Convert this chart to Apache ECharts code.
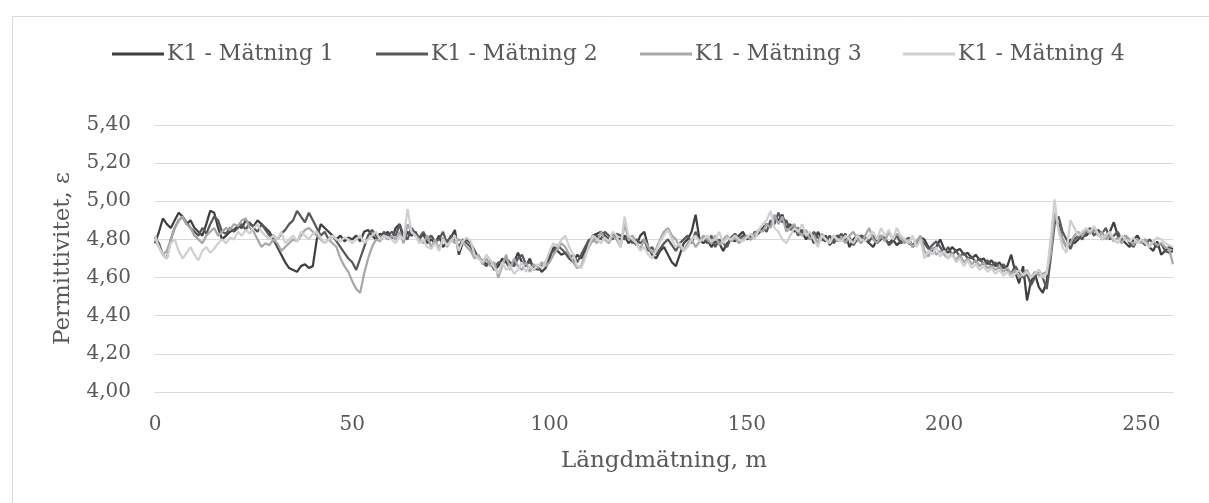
<!DOCTYPE html>
<html>
<head>
<meta charset="utf-8">
<script src="https://cdn.jsdelivr.net/npm/echarts@6/dist/echarts.min.js"></script>
<style>
  html, body { margin: 0; padding: 0; background: #ffffff; }
  #chart { width: 1209px; height: 503px; }
</style>
</head>
<body>
<div id="chart"></div>
<script>
// Series names
const seriesNames = ['K1 - Mätning 1', 'K1 - Mätning 2', 'K1 - Mätning 3', 'K1 - Mätning 4'];
const xTicks = [0, 50, 100, 150, 200, 250];
const yTicks = [4.00, 4.20, 4.40, 4.60, 4.80, 5.00, 5.20, 5.40];

// Measurement positions, m (1 m sampling)
const meters = Array.from({ length: 259 }, (_, i) => i);

// Permittivity values
const matning1 = [
  4.78, 4.84, 4.91, 4.88, 4.86, 4.90, 4.94, 4.92, 4.88, 4.90,
  4.86, 4.84, 4.82, 4.88, 4.95, 4.94, 4.86, 4.80, 4.82, 4.84,
  4.85, 4.87, 4.86, 4.90, 4.88, 4.87, 4.90, 4.88, 4.86, 4.84,
  4.80, 4.76, 4.72, 4.68, 4.65, 4.64, 4.63, 4.66, 4.67, 4.65,
  4.66, 4.80, 4.88, 4.86, 4.84, 4.82, 4.80, 4.82, 4.79, 4.81,
  4.80, 4.82, 4.79, 4.84, 4.85, 4.82, 4.80, 4.83, 4.82, 4.84,
  4.80, 4.86, 4.88, 4.79, 4.84, 4.82, 4.84, 4.80, 4.83, 4.78,
  4.80, 4.78, 4.82, 4.76, 4.79, 4.81, 4.85, 4.72, 4.78, 4.80,
  4.78, 4.74, 4.70, 4.69, 4.67, 4.68, 4.64, 4.66, 4.70, 4.68,
  4.65, 4.68, 4.73, 4.68, 4.66, 4.70, 4.64, 4.66, 4.63, 4.65,
  4.70, 4.76, 4.74, 4.72, 4.73, 4.70, 4.68, 4.72, 4.70, 4.74,
  4.78, 4.82, 4.83, 4.84, 4.82, 4.80, 4.83, 4.81, 4.80, 4.82,
  4.78, 4.80, 4.77, 4.82, 4.84, 4.76, 4.72, 4.70, 4.74, 4.76,
  4.72, 4.68, 4.66, 4.72, 4.78, 4.80, 4.84, 4.93, 4.80, 4.78,
  4.80, 4.76, 4.79, 4.78, 4.74, 4.78, 4.80, 4.79, 4.82, 4.84,
  4.80, 4.82, 4.81, 4.84, 4.86, 4.88, 4.87, 4.92, 4.90, 4.93,
  4.86, 4.88, 4.84, 4.86, 4.84, 4.80, 4.83, 4.78, 4.84, 4.80,
  4.82, 4.77, 4.80, 4.82, 4.80, 4.83, 4.76, 4.80, 4.82, 4.81,
  4.80, 4.78, 4.76, 4.80, 4.82, 4.80, 4.78, 4.80, 4.77, 4.79,
  4.80, 4.78, 4.77, 4.79, 4.81, 4.80, 4.76, 4.74, 4.76, 4.80,
  4.75, 4.73, 4.76, 4.74, 4.75, 4.72, 4.73, 4.70, 4.72, 4.69,
  4.70, 4.67, 4.69, 4.66, 4.68, 4.65, 4.66, 4.72, 4.63, 4.57,
  4.66, 4.48, 4.58, 4.62, 4.55, 4.52, 4.58, 4.78, 4.91, 4.88,
  4.80, 4.76, 4.80, 4.78, 4.80, 4.83, 4.82, 4.84, 4.85, 4.84,
  4.80, 4.82, 4.84, 4.89, 4.82, 4.80, 4.78, 4.76, 4.80, 4.82,
  4.78, 4.80, 4.76, 4.74, 4.79, 4.72, 4.74, 4.76, 4.75
];
const matning2 = [
  4.81, 4.78, 4.72, 4.70, 4.80, 4.86, 4.90, 4.92, 4.89, 4.86,
  4.84, 4.82, 4.86, 4.83, 4.88, 4.92, 4.90, 4.84, 4.83, 4.86,
  4.84, 4.86, 4.88, 4.85, 4.89, 4.86, 4.84, 4.88, 4.85, 4.82,
  4.82, 4.80, 4.83, 4.85, 4.88, 4.90, 4.95, 4.92, 4.89, 4.94,
  4.90, 4.86, 4.82, 4.84, 4.80, 4.82, 4.79, 4.76, 4.73, 4.70,
  4.68, 4.64, 4.70, 4.76, 4.82, 4.85, 4.82, 4.80, 4.84, 4.82,
  4.84, 4.82, 4.88, 4.82, 4.80, 4.86, 4.83, 4.81, 4.84, 4.80,
  4.82, 4.79, 4.80, 4.84, 4.78, 4.82, 4.80, 4.76, 4.80, 4.78,
  4.76, 4.72, 4.71, 4.68, 4.66, 4.69, 4.65, 4.68, 4.67, 4.70,
  4.68, 4.66, 4.70, 4.72, 4.67, 4.68, 4.66, 4.64, 4.66, 4.68,
  4.72, 4.74, 4.77, 4.75, 4.73, 4.70, 4.72, 4.68, 4.72, 4.76,
  4.80, 4.79, 4.82, 4.80, 4.84, 4.82, 4.80, 4.83, 4.82, 4.80,
  4.82, 4.78, 4.80, 4.78, 4.80, 4.74, 4.76, 4.72, 4.75, 4.78,
  4.80, 4.77, 4.74, 4.78, 4.80, 4.82, 4.78, 4.84, 4.79, 4.81,
  4.78, 4.82, 4.76, 4.80, 4.78, 4.76, 4.81, 4.83, 4.80, 4.82,
  4.81, 4.80, 4.84, 4.83, 4.86, 4.84, 4.90, 4.88, 4.94, 4.89,
  4.90, 4.85, 4.87, 4.82, 4.85, 4.83, 4.80, 4.84, 4.81, 4.80,
  4.79, 4.82, 4.78, 4.81, 4.83, 4.79, 4.81, 4.77, 4.80, 4.82,
  4.81, 4.79, 4.82, 4.78, 4.80, 4.81, 4.77, 4.79, 4.82, 4.78,
  4.79, 4.81, 4.76, 4.78, 4.80, 4.78, 4.75, 4.77, 4.79, 4.76,
  4.73, 4.76, 4.72, 4.74, 4.71, 4.73, 4.70, 4.71, 4.68, 4.70,
  4.67, 4.69, 4.66, 4.68, 4.65, 4.67, 4.64, 4.62, 4.66, 4.63,
  4.60, 4.62, 4.56, 4.60, 4.64, 4.60, 4.54, 4.70, 4.88, 4.92,
  4.84, 4.80, 4.75, 4.80, 4.82, 4.80, 4.84, 4.86, 4.82, 4.85,
  4.83, 4.86, 4.80, 4.82, 4.84, 4.80, 4.82, 4.78, 4.76, 4.80,
  4.79, 4.77, 4.80, 4.78, 4.76, 4.78, 4.74, 4.73, 4.74
];
const matning3 = [
  4.80, 4.76, 4.72, 4.74, 4.80, 4.86, 4.90, 4.92, 4.88, 4.86,
  4.82, 4.80, 4.78, 4.82, 4.84, 4.86, 4.82, 4.84, 4.86, 4.85,
  4.88, 4.87, 4.90, 4.91, 4.86, 4.84, 4.80, 4.76, 4.78, 4.77,
  4.80, 4.78, 4.74, 4.76, 4.78, 4.80, 4.79, 4.82, 4.85, 4.86,
  4.84, 4.82, 4.80, 4.78, 4.80, 4.78, 4.76, 4.70, 4.66, 4.63,
  4.58, 4.54, 4.52, 4.62, 4.70, 4.76, 4.80, 4.79, 4.82, 4.80,
  4.82, 4.80, 4.84, 4.78, 4.88, 4.84, 4.82, 4.80, 4.78, 4.82,
  4.76, 4.80, 4.75, 4.81, 4.76, 4.80, 4.78, 4.80, 4.79, 4.76,
  4.74, 4.70, 4.72, 4.67, 4.70, 4.66, 4.68, 4.60, 4.66, 4.72,
  4.64, 4.70, 4.66, 4.64, 4.68, 4.63, 4.67, 4.65, 4.68, 4.66,
  4.68, 4.72, 4.75, 4.78, 4.76, 4.72, 4.68, 4.65, 4.66, 4.72,
  4.76, 4.80, 4.78, 4.84, 4.80, 4.78, 4.82, 4.80, 4.76, 4.88,
  4.80, 4.82, 4.78, 4.75, 4.80, 4.76, 4.73, 4.75, 4.80, 4.84,
  4.86, 4.82, 4.80, 4.76, 4.74, 4.78, 4.80, 4.76, 4.79, 4.82,
  4.80, 4.78, 4.82, 4.77, 4.80, 4.82, 4.79, 4.81, 4.78, 4.80,
  4.82, 4.80, 4.83, 4.85, 4.84, 4.88, 4.86, 4.93, 4.88, 4.92,
  4.84, 4.86, 4.88, 4.84, 4.82, 4.85, 4.80, 4.82, 4.78, 4.83,
  4.80, 4.78, 4.82, 4.79, 4.81, 4.78, 4.82, 4.84, 4.80, 4.78,
  4.82, 4.86, 4.80, 4.78, 4.82, 4.79, 4.84, 4.80, 4.83, 4.81,
  4.78, 4.80, 4.76, 4.79, 4.82, 4.74, 4.71, 4.76, 4.72, 4.74,
  4.72, 4.70, 4.73, 4.69, 4.72, 4.68, 4.70, 4.67, 4.69, 4.66,
  4.68, 4.65, 4.66, 4.64, 4.66, 4.63, 4.65, 4.62, 4.64, 4.60,
  4.62, 4.64, 4.60, 4.63, 4.61, 4.62, 4.63, 4.72, 4.94, 4.86,
  4.80, 4.76, 4.78, 4.82, 4.84, 4.82, 4.85, 4.83, 4.86, 4.82,
  4.84, 4.80, 4.82, 4.79, 4.81, 4.78, 4.82, 4.80, 4.77, 4.80,
  4.78, 4.80, 4.76, 4.79, 4.77, 4.78, 4.76, 4.75, 4.67
];
const matning4 = [
  4.82, 4.76, 4.72, 4.70, 4.78, 4.80, 4.74, 4.70, 4.73, 4.76,
  4.72, 4.69, 4.74, 4.76, 4.73, 4.75, 4.78, 4.80, 4.78, 4.81,
  4.80, 4.84, 4.82, 4.85, 4.83, 4.86, 4.88, 4.84, 4.82, 4.80,
  4.82, 4.80, 4.84, 4.78, 4.80, 4.82, 4.79, 4.84, 4.82, 4.80,
  4.83, 4.84, 4.81, 4.78, 4.80, 4.82, 4.80, 4.79, 4.81, 4.80,
  4.78, 4.80, 4.82, 4.78, 4.80, 4.82, 4.84, 4.80, 4.82, 4.81,
  4.80, 4.78, 4.82, 4.80, 4.96, 4.84, 4.82, 4.78, 4.80, 4.76,
  4.75, 4.78, 4.74, 4.80, 4.77, 4.79, 4.82, 4.74, 4.79, 4.81,
  4.79, 4.72, 4.70, 4.68, 4.72, 4.69, 4.65, 4.62, 4.68, 4.64,
  4.66, 4.62, 4.64, 4.68, 4.63, 4.66, 4.64, 4.67, 4.65, 4.68,
  4.74, 4.78, 4.76, 4.80, 4.82, 4.76, 4.72, 4.66, 4.65, 4.70,
  4.77, 4.82, 4.80, 4.78, 4.81, 4.79, 4.84, 4.82, 4.76, 4.92,
  4.82, 4.80, 4.78, 4.74, 4.76, 4.72, 4.70, 4.74, 4.79, 4.82,
  4.85, 4.80, 4.76, 4.78, 4.74, 4.76, 4.80, 4.82, 4.79, 4.80,
  4.82, 4.79, 4.80, 4.84, 4.78, 4.81, 4.80, 4.82, 4.80, 4.79,
  4.81, 4.83, 4.80, 4.85, 4.88, 4.90, 4.95, 4.86, 4.84, 4.80,
  4.78, 4.82, 4.86, 4.84, 4.88, 4.82, 4.84, 4.80, 4.76, 4.82,
  4.80, 4.78, 4.82, 4.80, 4.79, 4.82, 4.80, 4.78, 4.82, 4.80,
  4.79, 4.82, 4.84, 4.80, 4.86, 4.82, 4.85, 4.80, 4.86, 4.82,
  4.80, 4.78, 4.82, 4.76, 4.80, 4.70, 4.74, 4.72, 4.76, 4.71,
  4.74, 4.70, 4.72, 4.68, 4.70, 4.66, 4.69, 4.65, 4.67, 4.64,
  4.66, 4.63, 4.65, 4.62, 4.64, 4.61, 4.63, 4.60, 4.62, 4.64,
  4.61, 4.63, 4.60, 4.62, 4.64, 4.60, 4.62, 4.80, 5.01, 4.84,
  4.76, 4.73, 4.90, 4.86, 4.82, 4.84, 4.86, 4.84, 4.87, 4.83,
  4.80, 4.82, 4.84, 4.80, 4.78, 4.82, 4.80, 4.79, 4.81, 4.78,
  4.80, 4.78, 4.76, 4.79, 4.81, 4.80, 4.78, 4.77, 4.76
];

const seriesValues = [matning1, matning2, matning3, matning4];
const seriesColors = ['#3f3f3f', '#56585c', '#a5a7a9', '#cfd0d1'];
const legendLefts = [112, 376, 640, 903];

const FONT = 'DejaVu Serif';
const TEXT = '#595959';
const GRID = '#d9d9d9';

const chart = echarts.init(document.getElementById('chart'), null, { renderer: 'canvas' });

const option = {
  backgroundColor: '#ffffff',
  animation: false,
  textStyle: { fontFamily: FONT },
  graphic: [{
    type: 'rect',
    shape: { x: 12.5, y: 16.5, width: 1300, height: 600 },
    style: { fill: 'none', stroke: GRID, lineWidth: 1 },
    silent: true
  }],
  legend: seriesNames.map((n, i) => ({
    data: [{ name: n, icon: 'rect', itemStyle: { color: seriesColors[i] } }],
    left: legendLefts[i],
    top: 43,
    padding: 0,
    itemWidth: 52,
    itemHeight: 3,
    itemGap: 0,
    textStyle: { fontFamily: FONT, fontSize: 22, color: TEXT, padding: [0, 0, 0, -2] }
  })),
  grid: { left: 155, right: 36, top: 125, bottom: 111, containLabel: false },
  xAxis: {
    type: 'value',
    min: 0,
    max: 258,
    interval: 50,
    name: 'Längdmätning, m',
    nameLocation: 'middle',
    nameGap: 58,
    nameTextStyle: { fontFamily: FONT, fontSize: 23, color: TEXT },
    axisLine: { show: true, lineStyle: { color: GRID, width: 1 } },
    axisTick: { show: false },
    splitLine: { show: false },
    axisLabel: {
      fontFamily: FONT, fontSize: 20, color: TEXT, margin: 23,
      showMaxLabel: false,
      formatter: v => (xTicks.indexOf(v) >= 0 ? String(v) : '')
    }
  },
  yAxis: {
    type: 'value',
    min: yTicks[0],
    max: yTicks[yTicks.length - 1],
    interval: 0.2,
    name: 'Permittivitet, ε',
    nameLocation: 'middle',
    nameRotate: 90,
    nameGap: 80,
    nameTextStyle: { fontFamily: FONT, fontSize: 23, color: TEXT },
    axisLine: { show: false },
    axisTick: { show: false },
    splitLine: { show: true, lineStyle: { color: GRID, width: 1 } },
    axisLabel: {
      fontFamily: FONT, fontSize: 20, color: TEXT, margin: 24,
      formatter: v => v.toFixed(2).replace('.', ',')
    }
  },
  series: seriesNames.map((n, i) => ({
    name: n,
    type: 'line',
    data: meters.map((m, j) => [m, seriesValues[i][j]]),
    showSymbol: false,
    symbol: 'none',
    smooth: false,
    lineStyle: { color: seriesColors[i], width: 2.25 },
    itemStyle: { color: seriesColors[i] },
    emphasis: { disabled: true }
  }))
};

chart.setOption(option);
</script>
</body>
</html>
